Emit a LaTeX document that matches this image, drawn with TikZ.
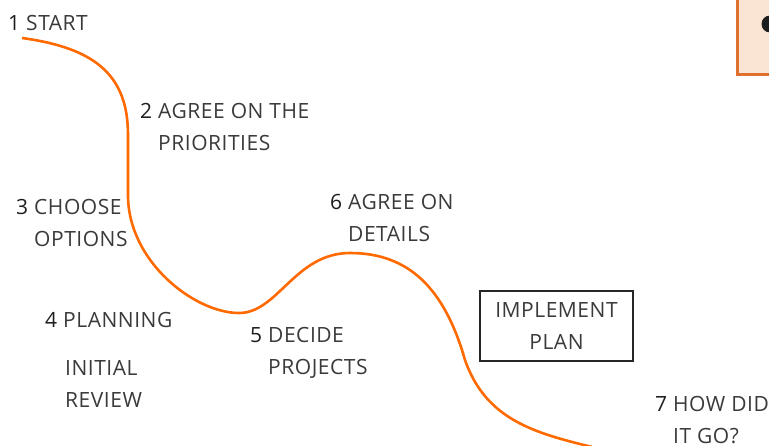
\documentclass[tikz,border=0pt]{standalone}
\usepackage{fontspec}
\setmainfont{Open Sans}[LetterSpace=2.5]
\usetikzlibrary{positioning,calc}
\definecolor{pathorange}{HTML}{FF6A00}
\definecolor{notefill}{HTML}{FAE4D4}
\definecolor{noteline}{HTML}{E0702E}
\definecolor{ink}{HTML}{3A3A3A}
\definecolor{numink}{HTML}{1E1E1E}
\newcommand{\stepno}[1]{\textcolor{numink}{#1}}
\newcommand{\steplabel}[3]{%
	\begin{tabular}[t]{@{}l@{\hspace{6pt}}l@{}}\stepno{#1} & #2\\ & #3\end{tabular}}

\begin{document}
\begin{tikzpicture}[
x = 1pt, y = -1pt,
every node/.style = {
	font = \fontsize{21}{32}\selectfont,
	text = ink,
	inner sep = 0pt
},
stage/.style = {
	anchor = base west
},
planbox/.style = {
	draw = black!85,
	line width = 1.6pt,
	minimum width = 153pt,
	minimum height = 70pt,
	align = center
},
note/.style = {
	draw = noteline,
	fill = notefill,
	line width = 2.5pt,
	anchor = north west,
	minimum width = 60pt,
	minimum height = 78pt
},
road/.style = {
	draw = pathorange,
	line width = 2.6pt
}
]
\clip (0,0) rectangle (769,445);

% top right note
\node[note] (note) at (736,-5) {};
\node[circle, fill=numink, minimum size=17pt] (dot) at (770,24) {};

% the road
\coordinate (p0) at (22,38);
\coordinate (p1) at (128,135);
\coordinate (p2) at (128,195);
\coordinate (p3) at (239,313);
\coordinate (p4) at (350,253);
\coordinate (p5) at (465,360);
\coordinate (p6) at (592,447);
\draw[road] (p0) .. controls (95,48) and (128,75) .. (p1)
	-- (p2) .. controls (128,262) and (195,313) .. (p3)
	.. controls (278,313) and (295,253) .. (p4)
	.. controls (410,253) and (445,290) .. (p5)
	.. controls (486,420) and (535,433) .. (p6);

% stages
\node[stage] (start)   at (8,30)    {\stepno{1}\hspace{6pt}START};
\node[stage] (agree)   at (140,118) {\steplabel{2}{AGREE ON THE}{PRIORITIES}};
\node[stage] (choose)  at (16,214)  {\steplabel{3}{CHOOSE}{OPTIONS}};
\node[stage] (details) at (330,209) {\steplabel{6}{AGREE ON}{DETAILS}};
\node[stage] (plan)    at (45,327)  {\stepno{4}\hspace{6pt}PLANNING};
\node[stage] (review)  at (65,375)  {\begin{tabular}[t]{@{}l@{}}INITIAL\\REVIEW\end{tabular}};
\node[stage] (decide)  at (250,342) {\steplabel{5}{DECIDE}{PROJECTS}};
\node[stage] (howdid)  at (655,411) {\steplabel{7}{HOW DID}{IT GO?}};

\node[planbox] (implement) at (556.5,326) {IMPLEMENT\\[-0.5pt]PLAN};
\end{tikzpicture}
\end{document}
